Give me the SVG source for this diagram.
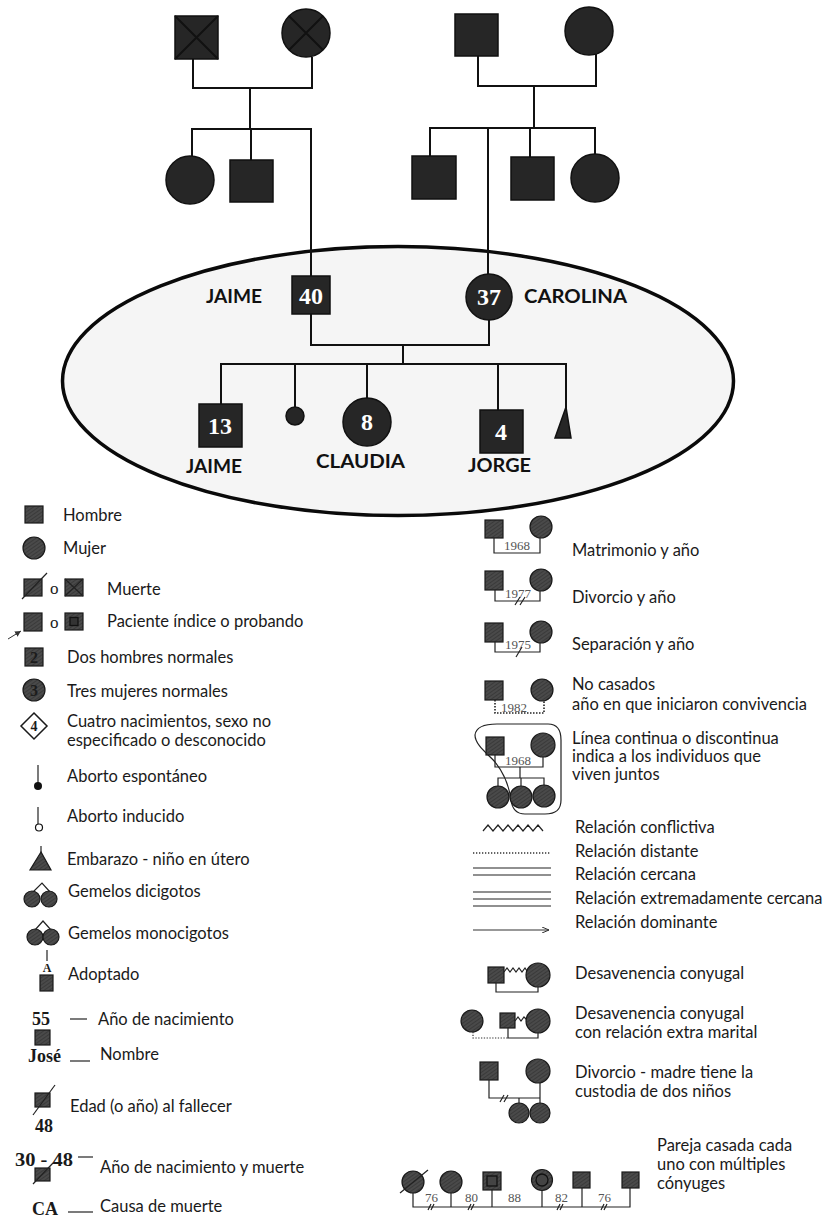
<svg xmlns="http://www.w3.org/2000/svg" width="836" height="1218" viewBox="0 0 836 1218">
<defs>
<pattern id="hatch" patternUnits="userSpaceOnUse" width="3" height="3" patternTransform="rotate(-35)">
<rect width="3" height="3" fill="#3a3a3a"/>
<line x1="0" y1="1" x2="3" y2="1" stroke="#5c5c5c" stroke-width="0.9"/>
</pattern>
<marker id="arr" markerWidth="8" markerHeight="6" refX="7" refY="3" orient="auto" markerUnits="userSpaceOnUse">
<path d="M0,0 L7,3 L0,6" fill="none" stroke="#333" stroke-width="1"/>
</marker>
<marker id="arr2" markerWidth="8" markerHeight="8" refX="6" refY="4" orient="auto" markerUnits="userSpaceOnUse">
<path d="M0,1 L6,4 L0,7 Z" fill="#333"/>
</marker>
</defs>
<style>
.g{fill:#262626;stroke:#111;stroke-width:1.5}
.ln{fill:none;stroke:#111;stroke-width:2}
.lg{fill:url(#hatch);stroke:#1a1a1a;stroke-width:1.2}
.ll{fill:none;stroke:#222;stroke-width:1.2}
.num{font-family:"Liberation Serif",serif;font-weight:bold;font-size:24px;fill:#fff;text-anchor:middle}
.lab{font-family:Lato,"Liberation Sans",sans-serif;font-weight:bold;font-size:18px;fill:#111}
.t{font-family:Lato,"Open Sans",sans-serif;font-size:16.5px;fill:#1a1a1a}
.sb{font-family:"Liberation Serif",serif;font-weight:bold;font-size:18px;fill:#1a1a1a}
.so{font-family:"Liberation Serif",serif;font-size:17px;fill:#1a1a1a}
.yr{font-family:"Liberation Serif",serif;font-size:13px;fill:#555}
</style>
<rect width="836" height="1218" fill="#fff"/>

<!-- household ellipse -->
<ellipse id="household" cx="398" cy="381" rx="335.5" ry="134.5" fill="#f5f5f5" stroke="#0a0a0a" stroke-width="3.5"/>

<g id="connectors">
<path class="ln" d="M193,59 V88 H312 V57"/>
<path class="ln" d="M250,88 V129"/>
<path class="ln" d="M192,156 V129 H311 V276"/>
<path class="ln" d="M251,129 V160"/>
<path class="ln" d="M478,56 V86 H596 V54"/>
<path class="ln" d="M534,86 V128"/>
<path class="ln" d="M430,156 V128 H595 V154"/>
<path class="ln" d="M488,128 V274"/>
<path class="ln" d="M530,128 V157"/>
<path class="ln" d="M311,314 V345 H489 V320"/>
<path class="ln" d="M403,345 V364"/>
<path class="ln" d="M221,404 V364 H566 V410"/>
<path class="ln" d="M295,364 V407"/>
<path class="ln" d="M367,364 V398"/>
<path class="ln" d="M498,364 V410"/>
</g>

<!-- grandparents left -->
<g id="gf-left"><rect class="g" x="175" y="16" width="43" height="43"/><path d="M175,16 L218,59 M218,16 L175,59" stroke="#111" stroke-width="2"/></g>
<g id="gm-left"><circle class="g" cx="306" cy="33" r="24"/><path d="M289,16 L323,50 M323,16 L289,50" stroke="#111" stroke-width="2"/></g>
<g id="aunt-left"><circle class="g" cx="190" cy="180" r="24"/></g>
<g id="uncle-left"><rect class="g" x="230" y="160" width="43" height="42"/></g>
<!-- grandparents right -->
<g id="gf-right"><rect class="g" x="455" y="14" width="43" height="42"/></g>
<g id="gm-right"><circle class="g" cx="589" cy="31" r="24"/></g>
<g id="uncle-right-1"><rect class="g" x="412" y="156" width="44" height="43"/></g>
<g id="uncle-right-2"><rect class="g" x="511" y="157" width="43" height="43"/></g>
<g id="aunt-right"><circle class="g" cx="595" cy="178" r="24"/></g>

<!-- parents -->
<g id="jaime-40"><rect class="g" x="292" y="276" width="38" height="38"/><text class="num" x="311" y="304">40</text><text class="lab" x="206" y="303" textLength="56" lengthAdjust="spacingAndGlyphs">JAIME</text></g>
<g id="carolina-37"><circle class="g" cx="489" cy="297" r="23"/><text class="num" x="489" y="305">37</text><text class="lab" x="524" y="303" textLength="103" lengthAdjust="spacingAndGlyphs">CAROLINA</text></g>
<!-- children -->
<g id="jaime-13"><rect class="g" x="199" y="404" width="43" height="43"/><text class="num" x="220" y="434">13</text><text class="lab" x="186" y="473" textLength="56" lengthAdjust="spacingAndGlyphs">JAIME</text></g>
<g id="miscarriage"><circle class="g" cx="295" cy="416" r="9"/></g>
<g id="claudia-8"><circle class="g" cx="367" cy="422" r="24"/><text class="num" x="367" y="430">8</text><text class="lab" x="316" y="468" textLength="89" lengthAdjust="spacingAndGlyphs">CLAUDIA</text></g>
<g id="jorge-4"><rect class="g" x="480" y="410" width="43" height="43"/><text class="num" x="501" y="440">4</text><text class="lab" x="468" y="472" textLength="63" lengthAdjust="spacingAndGlyphs">JORGE</text></g>
<g id="pregnancy"><polygon class="g" points="566,407 555,438 571,438"/></g>

<!-- ===== left legend ===== -->
<g id="lg-hombre"><rect class="lg" x="25" y="506" width="18" height="17"/><text class="t" x="63" y="521">Hombre</text></g>
<g id="lg-mujer"><circle class="lg" cx="34" cy="548" r="11"/><text class="t" x="63" y="554">Mujer</text></g>
<g id="lg-muerte"><rect class="lg" x="24" y="579" width="18" height="17"/><line class="ll" x1="22" y1="599" x2="47" y2="573"/><text class="so" x="50" y="594">o</text><rect class="lg" x="65" y="579" width="18" height="17"/><path class="ll" d="M65,579 L83,596 M83,579 L65,596"/><text class="t" x="107" y="595">Muerte</text></g>
<g id="lg-paciente"><rect class="lg" x="24" y="613" width="18" height="18"/><line x1="8" y1="639" x2="21" y2="631" stroke="#333" stroke-width="1" marker-end="url(#arr2)"/><text class="so" x="50" y="628">o</text><rect class="lg" x="65" y="613" width="18" height="17"/><rect x="70" y="617.5" width="8" height="8" fill="#333" stroke="#111" stroke-width="1.3"/><text class="t" x="107" y="627">Paciente índice o probando</text></g>
<g id="lg-dos"><rect class="lg" x="25" y="648" width="18" height="18"/><text x="34" y="663" font-family="Liberation Serif,serif" font-weight="bold" font-size="16" fill="#1c1c1c" text-anchor="middle">2</text><text class="t" x="67" y="663">Dos hombres normales</text></g>
<g id="lg-tres"><circle class="lg" cx="34" cy="690" r="11"/><text x="34" y="696" font-family="Liberation Serif,serif" font-weight="bold" font-size="16" fill="#1c1c1c" text-anchor="middle">3</text><text class="t" x="67" y="697">Tres mujeres normales</text></g>
<g id="lg-cuatro"><polygon points="34,713 47,726 34,739 21,726" fill="#fff" stroke="#1a1a1a" stroke-width="1.5"/><text x="34" y="731" font-family="Liberation Serif,serif" font-weight="bold" font-size="14" fill="#1a1a1a" text-anchor="middle">4</text><text class="t" x="67" y="727">Cuatro nacimientos, sexo no</text><text class="t" x="67" y="746">especificado o desconocido</text></g>
<g id="lg-espontaneo"><line class="ll" x1="38" y1="765" x2="38" y2="783"/><circle cx="38" cy="786" r="4" fill="#111"/><text class="t" x="67" y="782">Aborto espontáneo</text></g>
<g id="lg-inducido"><line class="ll" x1="38" y1="807" x2="38" y2="824"/><circle cx="39" cy="827.5" r="3.5" fill="#fff" stroke="#111" stroke-width="1.2"/><text class="t" x="67" y="822">Aborto inducido</text></g>
<g id="lg-embarazo"><line class="ll" x1="41" y1="846" x2="41" y2="856"/><polygon class="lg" points="41,852 30,870 51,870"/><text class="t" x="67" y="865">Embarazo - niño en útero</text></g>
<g id="lg-dicigotos"><polyline class="ll" points="33,892 42,883 50,892"/><circle class="lg" cx="32" cy="899" r="8"/><circle class="lg" cx="49" cy="899" r="8"/><text class="t" x="68" y="897">Gemelos dicigotos</text></g>
<g id="lg-monocigotos"><polyline class="ll" points="35,930 43,921 51,930"/><circle class="lg" cx="35" cy="937" r="8"/><circle class="lg" cx="51" cy="937" r="8"/><text class="t" x="68" y="939">Gemelos monocigotos</text></g>
<g id="lg-adoptado"><line class="ll" x1="47" y1="950" x2="47" y2="961"/><text x="47" y="972" font-family="Liberation Serif,serif" font-weight="bold" font-size="12" fill="#1a1a1a" text-anchor="middle">A</text><rect class="lg" x="40" y="975" width="13" height="16"/><text class="t" x="68" y="980">Adoptado</text></g>
<g id="lg-nacimiento"><text class="sb" x="32" y="1025">55</text><line class="ll" x1="70" y1="1019" x2="87" y2="1019"/><text class="t" x="98" y="1025">Año de nacimiento</text><rect class="lg" x="35" y="1030" width="15" height="15"/><text class="sb" x="28" y="1062">José</text><line class="ll" x1="70" y1="1061" x2="90" y2="1061"/><text class="t" x="100" y="1060">Nombre</text></g>
<g id="lg-edad"><rect class="lg" x="35" y="1093" width="15" height="14"/><line class="ll" x1="33" y1="1115" x2="55" y2="1085"/><text class="sb" x="35" y="1132">48</text><text class="t" x="70" y="1112">Edad (o año) al fallecer</text></g>
<g id="lg-muerte2"><text class="sb" x="15" y="1166" textLength="58" lengthAdjust="spacingAndGlyphs">30 - 48</text><line class="ll" x1="78" y1="1157" x2="93" y2="1157"/><text class="t" x="100" y="1173">Año de nacimiento y muerte</text><rect class="lg" x="35" y="1168" width="15" height="13"/><line class="ll" x1="33" y1="1184" x2="53" y2="1163"/><text class="sb" x="32" y="1215">CA</text><line class="ll" x1="68" y1="1212" x2="93" y2="1212"/><text class="t" x="100" y="1212">Causa de muerte</text></g>

<!-- ===== right legend ===== -->
<g id="lg-matrimonio"><rect class="lg" x="485" y="520" width="18" height="18"/><circle class="lg" cx="541" cy="527" r="11"/><path class="ll" d="M494,538 V553 H540 V538"/><text class="yr" x="504" y="550">1968</text><text class="t" x="572" y="556">Matrimonio y año</text></g>
<g id="lg-divorcio"><rect class="lg" x="485" y="571" width="18" height="19"/><circle class="lg" cx="541" cy="580" r="11"/><path class="ll" d="M495,590 V601 H540 V591"/><text class="yr" x="505" y="598">1977</text><path class="ll" d="M515,605 L520,597 M520,605 L525,597"/><text class="t" x="572" y="603">Divorcio y año</text></g>
<g id="lg-separacion"><rect class="lg" x="485" y="623" width="18" height="19"/><circle class="lg" cx="541" cy="632" r="11"/><path class="ll" d="M495,642 V652 H540 V643"/><text class="yr" x="505" y="649">1975</text><line class="ll" x1="516" y1="657" x2="522" y2="647"/><text class="t" x="572" y="650">Separación y año</text></g>
<g id="lg-nocasados"><rect class="lg" x="485" y="681" width="18" height="19"/><circle class="lg" cx="542" cy="690" r="11"/><path d="M495,700 V713 H544 V701" fill="none" stroke="#222" stroke-width="1.6" stroke-dasharray="1.5,1.5"/><text class="yr" x="501" y="712">1982</text><text class="t" x="572" y="690">No casados</text><text class="t" x="572" y="710">año en que iniciaron convivencia</text></g>
<g id="lg-juntos"><path class="ll" d="M475,735 C476,727 485,724 497,724 L548,724 C557,724 561,730 561,740 L561,800 C561,810 556,814 545,814 L525,814 C516,814 512,808 511,800 C509,785 503,772 495,762 C488,754 475,745 475,735 Z"/><rect class="lg" x="486" y="737" width="18" height="18"/><circle class="lg" cx="543" cy="745" r="12"/><path class="ll" d="M495,755 V767 H543 V757"/><text class="yr" x="505" y="765">1968</text><path class="ll" d="M520,767 V778 M498,787 V778 H544 V786 M521,778 V786"/><circle class="lg" cx="498" cy="797" r="11"/><circle class="lg" cx="521" cy="797" r="11"/><circle class="lg" cx="544" cy="796" r="11"/><text class="t" x="572" y="744">Línea continua o discontinua</text><text class="t" x="572" y="762">indica a los individuos que</text><text class="t" x="572" y="780">viven juntos</text></g>
<g id="lg-conflictiva"><polyline class="ll" points="483,831 488,825 493,831 498,825 503,831 508,825 513,831 518,825 523,831 528,825 533,831 538,825 543,831"/><text class="t" x="575" y="833">Relación conflictiva</text></g>
<g id="lg-distante"><line x1="473" y1="853" x2="550" y2="853" stroke="#333" stroke-width="1.3" stroke-dasharray="1.3,1.7"/><text class="t" x="575" y="857">Relación distante</text></g>
<g id="lg-cercana"><path class="ll" d="M473,868 H551 M473,875 H551"/><text class="t" x="575" y="880">Relación cercana</text></g>
<g id="lg-extrema"><path class="ll" d="M473,892 H551 M473,899 H551 M473,906 H551"/><text class="t" x="575" y="904">Relación extremadamente cercana</text></g>
<g id="lg-dominante"><line x1="473" y1="930" x2="549" y2="930" stroke="#333" stroke-width="1.2" marker-end="url(#arr)"/><text class="t" x="575" y="928">Relación dominante</text></g>
<g id="lg-desavenencia"><rect class="lg" x="488" y="967" width="16" height="16"/><circle class="lg" cx="538" cy="975" r="12"/><polyline class="ll" points="504,972 507,968 510,972 513,968 516,972 519,968 522,972 525,968 527,971"/><path class="ll" d="M496,983 V992 H538 V987"/><text class="t" x="575" y="979">Desavenencia conyugal</text></g>
<g id="lg-extramarital"><circle class="lg" cx="472" cy="1021" r="11"/><rect class="lg" x="500" y="1013" width="15" height="15"/><polyline class="ll" points="515,1021 518,1017 521,1021 524,1017 527,1020"/><circle class="lg" cx="538" cy="1021" r="12"/><path class="ll" d="M508,1028 V1038 H538 V1033"/><path d="M473,1032 V1038 H508" fill="none" stroke="#333" stroke-width="1.2" stroke-dasharray="1.3,1.5"/><text class="t" x="575" y="1019">Desavenencia conyugal</text><text class="t" x="575" y="1038">con relación extra marital</text></g>
<g id="lg-custodia"><rect class="lg" x="480" y="1062" width="18" height="18"/><circle class="lg" cx="538" cy="1071" r="12"/><path class="ll" d="M489,1080 V1098 H540 M540,1083 V1103 M519,1098 V1103"/><path class="ll" d="M500,1102 L504,1095 M504,1102 L508,1095"/><circle class="lg" cx="519" cy="1113" r="10"/><circle class="lg" cx="540" cy="1113" r="10"/><text class="t" x="575" y="1078">Divorcio - madre tiene la</text><text class="t" x="575" y="1097">custodia de dos niños</text></g>
<g id="lg-multiples"><path class="ll" d="M413,1193 V1207 H630 V1188 M451,1193 V1207 M492,1190 V1207 M542,1190 V1207 M582,1188 V1207"/><circle class="lg" cx="413" cy="1182" r="11"/><line class="ll" x1="400" y1="1193" x2="428" y2="1170"/><circle class="lg" cx="451" cy="1182" r="11"/><rect class="lg" x="483" y="1172" width="18" height="18"/><rect x="487" y="1176" width="10" height="10" fill="#444" stroke="#111" stroke-width="1.3"/><circle class="lg" cx="542" cy="1180" r="10.5"/><circle cx="542" cy="1180" r="6" fill="#444" stroke="#111" stroke-width="1.3"/><rect class="lg" x="573" y="1172" width="17" height="16"/><rect class="lg" x="622" y="1172" width="17" height="16"/><text class="yr" x="425" y="1202">76</text><text class="yr" x="465" y="1202">80</text><text class="yr" x="508" y="1202">88</text><text class="yr" x="555" y="1202">82</text><text class="yr" x="598" y="1202">76</text><path class="ll" d="M428,1210 L431,1204 M431,1210 L434,1204 M468,1210 L471,1204 M471,1210 L474,1204 M557,1210 L560,1204 M560,1210 L563,1204 M601,1210 L604,1204 M604,1210 L607,1204"/><text class="t" x="657" y="1151">Pareja casada cada</text><text class="t" x="657" y="1170">uno con múltiples</text><text class="t" x="657" y="1189">cónyuges</text></g>
</svg>
